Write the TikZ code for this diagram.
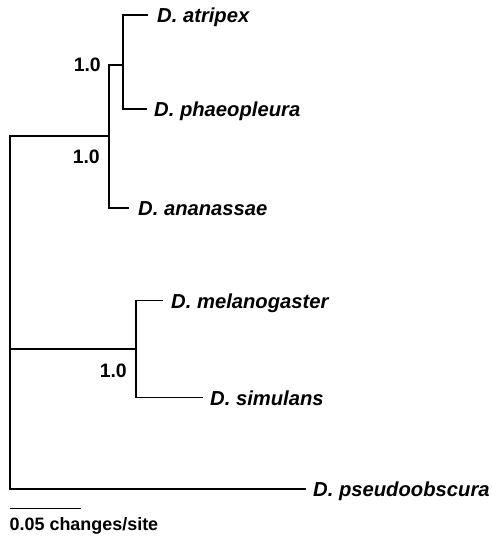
\documentclass[tikz,border=0pt]{standalone}
\usepackage{fontspec}
\setmainfont{Liberation Sans}
\begin{document}
\begin{tikzpicture}[x=1bp,y=-1bp,
  branch/.style={draw=black, line width=1.3bp},
  taxon/.style={font=\fontsize{20.3}{22}\selectfont\bfseries\itshape, anchor=base west, inner sep=0pt},
  support/.style={font=\fontsize{19.5}{22}\selectfont\bfseries, anchor=base east, inner sep=0pt},
  scaletext/.style={font=\fontsize{18}{22}\selectfont\bfseries, anchor=base west, inner sep=0pt}]
\useasboundingbox (0,0) rectangle (492,538);
% internal nodes
\coordinate (root) at (10,349);
\coordinate (n1) at (109,136);
\coordinate (n2) at (123,65);
\coordinate (n3) at (136,349);
% tips
\coordinate (tatr) at (148,15);
\coordinate (tpha) at (147,109);
\coordinate (tana) at (129,208);
\coordinate (tmel) at (163,300.5);
\coordinate (tsim) at (203,397.5);
\coordinate (tpse) at (306,489);
% labels
\node[taxon] (atr) at ([xshift=9bp,yshift=-7.5bp]tatr) {D. atripex};
\node[taxon] (pha) at ([xshift=7bp,yshift=-7.5bp]tpha) {D. phaeopleura};
\node[taxon] (ana) at ([xshift=9bp,yshift=-7.5bp]tana) {D. ananassae};
\node[taxon] (mel) at ([xshift=8bp,yshift=-7.5bp]tmel) {D. melanogaster};
\node[taxon] (sim) at ([xshift=7bp,yshift=-7.5bp]tsim) {D. simulans};
\node[taxon] (pse) at ([xshift=7bp,yshift=-7.5bp]tpse) {D. pseudoobscura};
% branches
\draw[branch] (tatr) -| (n2) |- (tpha);
\draw[branch] (n2) -| (n1) |- (tana);
\draw[branch] (n1) -| (root) |- (tpse);
\draw[branch] (root) -- (n3);
\draw[branch] (tmel) -| (n3) |- (tsim);
% support values
\node[support] (s1) at (101,72) {1.0};
\node[support] (s2) at (100,164) {1.0};
\node[support] (s3) at (127,377) {1.0};
% scale bar
\coordinate (sba) at (9.5,508.5);
\coordinate (sbb) at (81,508.5);
\draw[branch] (sba) -- (sbb);
\node[scaletext] (sbt) at (9.5,530) {0.05 changes/site};
\end{tikzpicture}
\end{document}
